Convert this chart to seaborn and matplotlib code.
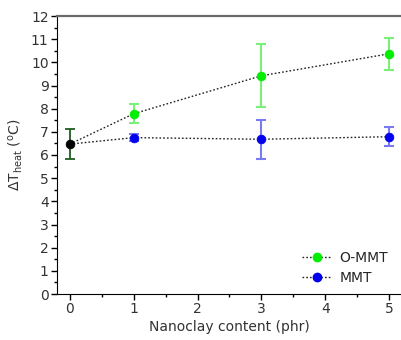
import matplotlib
matplotlib.use("Agg")
import matplotlib.pyplot as plt
from matplotlib.lines import Line2D
from matplotlib.ticker import MultipleLocator
import numpy as np
import pandas as pd
import seaborn as sns

# Nanoclay content (phr) and heating temperature rise
content = [0, 1, 3, 5]
ommt_mean = [6.47, 7.78, 9.42, 10.37]
ommt_err = [0.65, 0.42, 1.35, 0.70]
mmt_mean = [6.47, 6.75, 6.68, 6.79]
mmt_err = [0.65, 0.15, 0.85, 0.42]
series_names = ["O-MMT", "MMT"]
series_colors = ["#00ee00", "#0000ee"]
err_colors = ["#7af07a", "#7a7af5"]

sns.set_style("ticks")
plt.rcParams["font.family"] = ["DejaVu Sans"]
plt.rcParams["font.size"] = 9

fig = plt.figure(figsize=(4.02, 3.40), dpi=100)
ax = fig.add_axes([57 / 402, 1 - 294 / 340, 1 - 57 / 402, (294 - 16) / 340])

dotted = (0, (1.2, 1.5))
for name, mean, err, col, ecol in zip(series_names, [ommt_mean, mmt_mean],
                                      [ommt_err, mmt_err], series_colors, err_colors):
    df = pd.DataFrame({"x": content, "y": mean})
    sns.lineplot(data=df, x="x", y="y", ax=ax, color="#222222", lw=1,
                 linestyle=dotted, zorder=2)
    ax.errorbar(content[1:], mean[1:], yerr=err[1:], fmt="none", ecolor=ecol,
                elinewidth=1.5, capsize=3.5, capthick=1.5, zorder=3)
    sns.scatterplot(data=df.iloc[1:], x="x", y="y", ax=ax, color=col, s=40,
                    edgecolor=col, linewidth=0.5, zorder=4)

# shared reference sample at 0 phr
ax.errorbar(content[:1], ommt_mean[:1], yerr=ommt_err[:1], fmt="none",
            ecolor="#1e5e1e", elinewidth=1.3, capsize=3.5, capthick=1.3, zorder=3)
sns.scatterplot(x=content[:1], y=ommt_mean[:1], ax=ax, color="black", s=40,
                edgecolor="black", linewidth=0.5, zorder=4)

ax.set_xlim(-0.2, 5.2)
ax.set_ylim(0, 12)
ax.xaxis.set_major_locator(MultipleLocator(1))
ax.xaxis.set_minor_locator(MultipleLocator(0.5))
ax.yaxis.set_major_locator(MultipleLocator(1))
ax.yaxis.set_minor_locator(MultipleLocator(0.5))
ax.tick_params(axis="both", which="major", direction="out", length=4, width=1,
               labelsize=10, color="black", labelcolor="#333333", pad=2)
ax.tick_params(axis="both", which="minor", direction="out", length=2, width=1,
               color="black")

ax.spines["right"].set_visible(False)
ax.spines["top"].set_color("#6a6a6a")
ax.spines["top"].set_linewidth(1.6)
ax.spines["left"].set_color("black")
ax.spines["bottom"].set_color("black")

ax.set_xlabel("Nanoclay content (phr)", fontsize=10, color="#333333", labelpad=3)
ax.set_ylabel(r"$\Delta$T$_{\mathregular{heat}}$ ($\mathregular{^o}$C)", fontsize=10,
              color="#333333", labelpad=4)

handles = [Line2D([0], [0], color="#222222", lw=1, linestyle=dotted, marker="o",
                  markersize=6, markerfacecolor=c, markeredgecolor=c)
           for c in series_colors]
ax.legend(handles, series_names, loc="lower right", bbox_to_anchor=(0.985, 0.0),
          frameon=False, fontsize=10, handlelength=2.2, handletextpad=0.5,
          labelspacing=0.45, borderaxespad=0.25)

fig.savefig("out.png", dpi=100)
